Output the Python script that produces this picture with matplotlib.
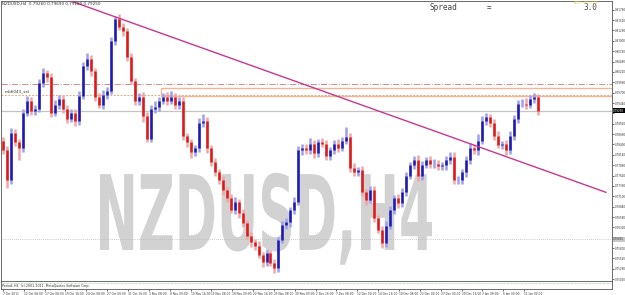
import numpy as np
import matplotlib
matplotlib.use("Agg")
import matplotlib.pyplot as plt
from matplotlib.patches import Rectangle, PathPatch
from matplotlib.textpath import TextPath
from matplotlib.font_manager import FontProperties
from matplotlib.transforms import Affine2D, IdentityTransform

# NZDUSD H4 closes (one entry per drawn candle)
closes = [
    0.7825, 0.7750, 0.7870, 0.7845, 0.7830, 0.7920, 0.7950, 0.7925, 0.7930, 0.7995, 0.8020, 0.8010, 0.7920, 0.7940, 0.7955,
    0.7930, 0.7905, 0.7920, 0.7900, 0.7962, 0.8038, 0.8055, 0.8025, 0.7960, 0.7940, 0.7965, 0.7975, 0.8100, 0.8155, 0.8135,
    0.8125, 0.8060, 0.8000, 0.7950, 0.7960, 0.7912, 0.7855, 0.7930, 0.7935, 0.7950, 0.7960, 0.7950, 0.7958, 0.7940, 0.7950,
    0.7862, 0.7845, 0.7820, 0.7830, 0.7895, 0.7900, 0.7830, 0.7795, 0.7770, 0.7750, 0.7725, 0.7705, 0.7675, 0.7695, 0.7668,
    0.7642, 0.7610, 0.7595, 0.7585, 0.7562, 0.7545, 0.7568, 0.7542, 0.7530, 0.7600, 0.7638, 0.7645, 0.7675, 0.7695, 0.7825,
    0.7832, 0.7825, 0.7842, 0.7818, 0.7845, 0.7842, 0.7812, 0.7825, 0.7842, 0.7832, 0.7850, 0.7860, 0.7782, 0.7770, 0.7775,
    0.7720, 0.7700, 0.7725, 0.7655, 0.7625, 0.7592, 0.7635, 0.7675, 0.7705, 0.7692, 0.7720, 0.7762, 0.7788, 0.7800, 0.7760,
    0.7788, 0.7800, 0.7792, 0.7792, 0.7785, 0.7788, 0.7800, 0.7808, 0.7750, 0.7750, 0.7770, 0.7800, 0.7832, 0.7825, 0.7850,
    0.7900, 0.7908, 0.7895, 0.7862, 0.7838, 0.7842, 0.7825, 0.7862, 0.7905, 0.7942, 0.7942, 0.7940, 0.7955, 0.7958, 0.7925,
]
first_open = 0.7850

# wick lengths in pips
up_wick = [
    8, 10, 12, 10, 8, 10, 12, 10, 8, 10, 12, 8, 10, 12, 8,
    10, 10, 8, 10, 12, 10, 14, 10, 8, 10, 12, 8, 10, 8, 12,
    10, 8, 10, 8, 10, 12, 10, 8, 14, 10, 8, 12, 16, 10, 8,
    10, 8, 10, 8, 12, 16, 10, 8, 10, 8, 10, 8, 10, 12, 8,
    10, 8, 10, 8, 12, 8, 10, 8, 10, 8, 10, 10, 8, 12, 10,
    8, 10, 14, 10, 8, 12, 10, 8, 10, 12, 10, 25, 10, 12, 8,
    10, 8, 12, 10, 8, 10, 12, 10, 8, 10, 12, 10, 8, 12, 14,
    10, 8, 10, 12, 10, 8, 10, 12, 14, 10, 8, 10, 12, 8, 16,
    12, 10, 8, 10, 12, 8, 10, 12, 8, 10, 12, 14, 10, 12, 8,
]
dn_wick = [
    10, 18, 8, 10, 30, 10, 8, 12, 10, 8, 10, 12, 10, 8, 10,
    12, 10, 8, 14, 10, 8, 10, 12, 10, 8, 10, 12, 8, 10, 8,
    12, 10, 8, 10, 12, 15, 10, 8, 10, 12, 8, 10, 8, 10, 12,
    10, 12, 14, 10, 8, 10, 12, 10, 8, 10, 12, 10, 8, 10, 12,
    10, 8, 12, 10, 8, 12, 10, 8, 12, 10, 8, 10, 12, 10, 8,
    12, 10, 8, 12, 10, 8, 10, 12, 8, 10, 8, 10, 12, 10, 8,
    10, 12, 8, 10, 8, 12, 10, 8, 10, 12, 8, 10, 8, 10, 12,
    10, 8, 12, 10, 8, 10, 12, 8, 10, 8, 10, 12, 8, 10, 12,
    8, 10, 12, 10, 8, 10, 12, 8, 10, 12, 8, 10, 8, 10, 12,
]

date_labels = ["7 Oct 2011", "12 Oct 08:00", "17 Oct 08:00", "19 Oct 16:00", "24 Oct 08:00",
               "27 Oct 00:00", "31 Oct 16:00", "3 Nov 08:00", "8 Nov 00:00", "10 Nov 16:00",
               "15 Nov 08:00", "18 Nov 00:00", "22 Nov 16:00", "25 Nov 08:00", "30 Nov 00:00",
               "2 Dec 16:00", "7 Dec 08:00", "12 Dec 00:00", "14 Dec 16:00", "19 Dec 08:00",
               "22 Dec 00:00", "27 Dec 00:00", "29 Dec 16:00", "3 Jan 08:00", "6 Jan 00:00",
               "11 Jan 00:00"]

# levels drawn on the chart
level_dashdot = 0.79925
zone_top, zone_bottom = 0.79825, 0.79625
level_sel = 0.7965
bid = 0.7925
level_dotted = 0.76025
trend_x = [17, 151]
trend_y = [0.8200, 0.7720]

W, H = 625, 295
fig = plt.figure(figsize=(W / 100, H / 100), dpi=100)
ax = fig.add_axes([0.0015, 14 / H, 611 / W, 280 / H])
sub = fig.add_axes([0.0015, 6 / H, 611 / W, 8 / H])

n = len(closes)
opens = [first_open] + closes[:-1]
for i in range(n):
    o, c = opens[i], closes[i]
    hi = max(o, c) + up_wick[i] * 0.0001
    lo = min(o, c) - dn_wick[i] * 0.0001
    if c >= o:
        col, light = "#1a1ab4", "#a0a0e8"
    else:
        col, light = "#e01818", "#f2a6a6"
    ax.vlines(i, lo, hi, color=light, lw=1.8, zorder=3)
    ax.vlines(i, o, c, color=col, lw=1.8, zorder=4)

ax.set_xlim(-0.5, 152.5)
ax.set_ylim(0.74975, 0.8200)

# horizontal objects
ax.axhline(level_dashdot, color="#d88a8a", lw=0.7, ls="-.", zorder=2)
ax.add_patch(Rectangle((39.5, zone_bottom), 120, zone_top - zone_bottom, fill=False,
                       edgecolor="#f3b49a", lw=1.0, zorder=2))
ax.axhline(level_sel, color="#d8b080", lw=0.7, ls=(0, (2, 1.5)), zorder=2)
ax.axhline(bid, color="#c4c4c4", lw=0.9, zorder=2)
ax.axhline(level_dotted, color="#b8b8b8", lw=0.6, ls=(0, (1, 1.5)), zorder=2)
ax.plot(trend_x, trend_y, color="#c8378f", lw=1.0, zorder=5)

ax.text(0.5, level_sel + 0.0003, "mb6043_sel", fontsize=3, color="#333333", va="bottom", zorder=6)

# right price scale (labels hidden where a price box sits, as MT4 does)
ax.yaxis.tick_right()
ticks = np.arange(0.8178, 0.7500, -0.0026)
ax.set_yticks(ticks)
ax.set_yticklabels(["" if min(abs(t - bid), abs(t - level_dotted)) < 0.0012 else "%.5f" % t
                    for t in ticks])
ax.tick_params(axis="y", labelsize=2.0, length=1.5, width=0.5, pad=0.5, colors="#333333")
ax.set_xticks([])
for s in ax.spines.values():
    s.set_linewidth(0.6)
    s.set_color("#555555")

# price boxes on the scale
ax.text(1.002, bid, "%.5f" % bid, transform=ax.get_yaxis_transform(), fontsize=2.0,
        color="white", va="center", ha="left",
        bbox=dict(boxstyle="square,pad=0.15", fc="black", ec="none"), clip_on=False)
ax.text(1.002, level_dotted, "%.5f" % level_dotted, transform=ax.get_yaxis_transform(), fontsize=2.0,
        color="#333333", va="center", ha="left",
        bbox=dict(boxstyle="square,pad=0.15", fc="#c8c8c8", ec="none"), clip_on=False)

# watermark
tp = TextPath((0, 0), "NZDUSD,H4", size=1, prop=FontProperties(family="DejaVu Sans", weight="bold"))
ext = tp.get_extents()
tr = Affine2D().translate(-ext.x0, 0).scale(332 / ext.width, 76 / 0.73).translate(100, H - 250)
wm = PathPatch(tr.transform_path(tp), transform=IdentityTransform(), fc="#d2d2d2", ec="none",
               zorder=1, clip_on=False)
ax.add_patch(wm)

# subwindow
sub.set_xlim(-0.5, 152.5)
sub.set_ylim(0, 1)
sub.set_yticks([])
pos = np.arange(len(date_labels)) * 5.22
sub.set_xticks(pos)
sub.set_xticklabels(date_labels, ha="left")
sub.tick_params(axis="x", labelsize=2.1, length=1.5, width=0.5, pad=0.5, colors="#333333")
for s in sub.spines.values():
    s.set_linewidth(0.6)
    s.set_color("#555555")
sub.axhline(0.8, color="#8fbf8f", lw=0.5, ls=(0, (1, 1)))
sub.text(0.002, 0.35, "Period: H4  (c) 2001-2011, MetaQuotes Software Corp.", transform=sub.transAxes,
         fontsize=2.3, color="#333333", va="center")

# header texts
fig.text(2 / W, 1 - 4 / H, "NZDUSD,H4  0.79260 0.79690 0.79180 0.79250", fontsize=3, color="#333333",
         va="center")
fig.text(430 / W, 1 - 8 / H, "Spread", family="DejaVu Sans Mono", fontsize=5.5, color="#444444", va="center")
fig.text(487 / W, 1 - 8 / H, "=", family="DejaVu Sans Mono", fontsize=5.5, color="#444444", va="center")
fig.text(597 / W, 1 - 8 / H, "3.0", family="DejaVu Sans Mono", fontsize=5.5, color="#444444", va="center",
         ha="right")
fig.text(574 / W, 1 - 3 / H, "ACEP+18/0000", fontsize=2.3, color="#e8e060", va="center")

fig.savefig("out.png", dpi=100)
